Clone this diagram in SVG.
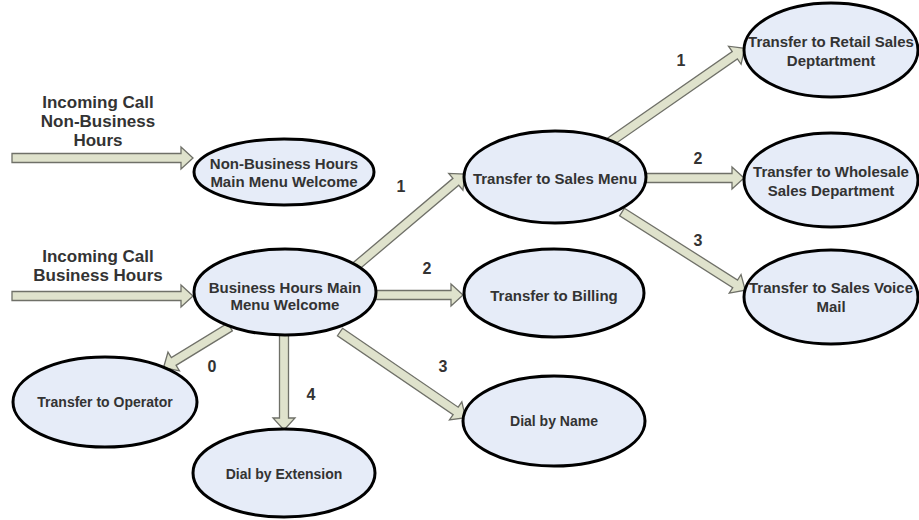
<svg xmlns="http://www.w3.org/2000/svg" width="919" height="520" viewBox="0 0 919 520">
<style>
.node{fill:#e6ecf8;stroke:#000;stroke-width:3}
.t{font-family:"Liberation Sans",Arial,sans-serif;font-weight:bold;font-size:15px;fill:#333;text-anchor:middle;dominant-baseline:central}
.in{font-size:17px}
.num{font-size:16px}
.sm{font-size:14px}
.arr{fill:#dfe2cc;stroke:#6f7068;stroke-width:1.3;stroke-linejoin:miter}
</style>
<rect width="919" height="520" fill="#fff"/>
<g id="labels">
<text class="t in" x="98" y="102">Incoming Call</text>
<text class="t in" x="98" y="121">Non-Business</text>
<text class="t in" x="98" y="140">Hours</text>
<text class="t in" x="98" y="256">Incoming Call</text>
<text class="t in" x="98" y="275">Business Hours</text>
</g>
<g id="connectors">
<path class="arr" transform="translate(12,158)" d="M0,-4.5H169V-11L181,0L169,11V4.5H0Z"/>
<path class="arr" transform="translate(12,296)" d="M0,-4.5H169V-11L181,0L169,11V4.5H0Z"/>
<path class="arr" transform="translate(355,267) rotate(-40.2)" d="M0,-4.5H132V-11L144,0L132,11V4.5H0Z"/>
<path class="arr" transform="translate(376,295)" d="M0,-4.5H75V-11L87,0L75,11V4.5H0Z"/>
<path class="arr" transform="translate(340,332) rotate(34.3)" d="M0,-4.5H140V-11L152,0L140,11V4.5H0Z"/>
<path class="arr" transform="translate(284,334) rotate(90)" d="M0,-4.5H84V-11L96,0L84,11V4.5H0Z"/>
<path class="arr" transform="translate(230,327) rotate(148.5)" d="M0,-4.5H66V-11L78,0L66,11V4.5H0Z"/>
<path class="arr" transform="translate(610,142) rotate(-34.8)" d="M0,-4.5H152V-11L164,0L152,11V4.5H0Z"/>
<path class="arr" transform="translate(645,178)" d="M0,-4.5H87V-11L99,0L87,11V4.5H0Z"/>
<path class="arr" transform="translate(622,212) rotate(32.4)" d="M0,-4.5H134V-11L146,0L134,11V4.5H0Z"/>
<text class="t num" x="401" y="186">1</text>
<text class="t num" x="427" y="268">2</text>
<text class="t num" x="443" y="366">3</text>
<text class="t num" x="311" y="394">4</text>
<text class="t num" x="212" y="366">0</text>
<text class="t num" x="681" y="60">1</text>
<text class="t num" x="698" y="158">2</text>
<text class="t num" x="698" y="240">3</text>
</g>
<g id="nonbusiness">
<ellipse class="node" cx="284" cy="172" rx="90" ry="33"/>
<text class="t" x="284" y="163">Non-Business Hours</text>
<text class="t" x="284" y="181">Main Menu Welcome</text>
</g>
<g id="business">
<ellipse class="node" cx="285" cy="292" rx="91" ry="43"/>
<text class="t" x="285" y="287">Business Hours Main</text>
<text class="t" x="285" y="304">Menu Welcome</text>
</g>
<g id="sales">
<ellipse class="node" cx="555" cy="177" rx="91" ry="46"/>
<text class="t" x="555" y="178">Transfer to Sales Menu</text>
</g>
<g id="retail">
<ellipse class="node" cx="831" cy="50" rx="87" ry="47"/>
<text class="t" x="831" y="41">Transfer to Retail Sales</text>
<text class="t" x="831" y="60">Deptartment</text>
</g>
<g id="wholesale">
<ellipse class="node" cx="831" cy="180" rx="87" ry="47"/>
<text class="t" x="831" y="171">Transfer to Wholesale</text>
<text class="t" x="831" y="190">Sales Department</text>
</g>
<g id="voicemail">
<ellipse class="node" cx="831" cy="297" rx="87" ry="47"/>
<text class="t" x="831" y="287">Transfer to Sales Voice</text>
<text class="t" x="831" y="306">Mail</text>
</g>
<g id="billing">
<ellipse class="node" cx="554" cy="293" rx="90" ry="44"/>
<text class="t" x="554" y="295">Transfer to Billing</text>
</g>
<g id="operator">
<ellipse class="node" cx="105" cy="402" rx="92" ry="45"/>
<text class="t sm" x="105" y="402">Transfer to Operator</text>
</g>
<g id="extension">
<ellipse class="node" cx="284" cy="473" rx="91" ry="44"/>
<text class="t sm" x="284" y="474">Dial by Extension</text>
</g>
<g id="dialname">
<ellipse class="node" cx="554" cy="421" rx="91" ry="45"/>
<text class="t sm" x="554" y="421">Dial by Name</text>
</g>
</svg>
